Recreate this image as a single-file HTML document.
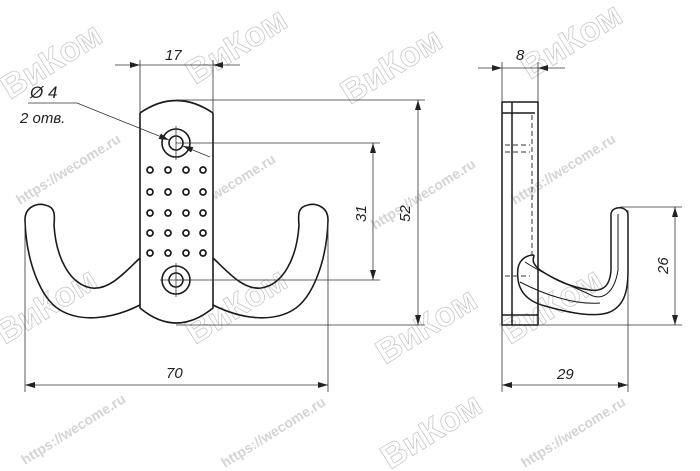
<!DOCTYPE html>
<html><head><meta charset="utf-8"><style>
html,body{margin:0;padding:0;background:#fff;}
svg{display:block;}
text{font-family:"Liberation Sans",sans-serif;font-style:italic;fill:#222;}
.wm{fill:none;stroke:#c8c8c8;stroke-width:0.8;font-family:"Liberation Sans",sans-serif;font-weight:bold;font-style:normal;font-size:34px;}
.wu{fill:#d4d4d4;font-family:"Liberation Sans",sans-serif;font-weight:bold;font-style:normal;font-size:14px;}
</style></head><body>
<svg width="700" height="471" viewBox="0 0 700 471" xmlns="http://www.w3.org/2000/svg">
<defs>
<marker id="a" viewBox="0 0 10 6" refX="10" refY="3" markerWidth="10" markerHeight="6" orient="auto-start-reverse" markerUnits="userSpaceOnUse"><path d="M0,0 L10,3 L0,6 z" fill="#222"/></marker>
</defs>
<g>
<text class="wm" transform="translate(10,100) rotate(-32)">ВиКом</text>
<text class="wm" transform="translate(195,85) rotate(-32)">ВиКом</text>
<text class="wm" transform="translate(350,105) rotate(-32)">ВиКом</text>
<text class="wm" transform="translate(530,80) rotate(-32)">ВиКом</text>
<text class="wm" transform="translate(5,345) rotate(-32)">ВиКом</text>
<text class="wm" transform="translate(195,345) rotate(-32)">ВиКом</text>
<text class="wm" transform="translate(385,365) rotate(-32)">ВиКом</text>
<text class="wm" transform="translate(510,345) rotate(-32)">ВиКом</text>
<text class="wm" transform="translate(390,470) rotate(-32)">ВиКом</text>
<text class="wu" transform="translate(20,205) rotate(-32)">https://wecome.ru</text>
<text class="wu" transform="translate(175,225) rotate(-32)">https://wecome.ru</text>
<text class="wu" transform="translate(375,230) rotate(-32)">https://wecome.ru</text>
<text class="wu" transform="translate(515,205) rotate(-32)">https://wecome.ru</text>
<text class="wu" transform="translate(25,465) rotate(-32)">https://wecome.ru</text>
<text class="wu" transform="translate(225,468) rotate(-32)">https://wecome.ru</text>
<text class="wu" transform="translate(525,468) rotate(-32)">https://wecome.ru</text>
</g>
<g fill="none" stroke="#1a1a1a" stroke-width="1.6" stroke-linejoin="round">
<path d="M140,305 C110,320 80,322 60,310 C40,298 26,260 25,220 C25,206 38,203 45,205 C55,207 55,214 54,225 C56,258 70,285 92,288 C110,290 125,272 140,258"/>
<path d="M213,305 C243,320 273,322 293,310 C313,298 327,260 328,220 C328,206 315,203 308,205 C298,207 298,214 299,225 C297,258 283,285 261,288 C243,290 228,272 213,258"/>
<path d="M140,113 Q176,88 213,113 L213,308 Q176,338 140,308 Z" fill="#fff"/>
<circle cx="176" cy="143" r="14"/><circle cx="176" cy="143" r="7"/>
<circle cx="176" cy="280" r="14"/><circle cx="176" cy="280" r="7"/>
</g>
<g fill="none" stroke="#1a1a1a" stroke-width="1.7">
<circle cx="150" cy="170" r="3"/><circle cx="168" cy="170" r="3"/><circle cx="186" cy="170" r="3"/><circle cx="203" cy="170" r="3"/>
<circle cx="150" cy="192" r="3"/><circle cx="168" cy="192" r="3"/><circle cx="186" cy="192" r="3"/><circle cx="203" cy="192" r="3"/>
<circle cx="150" cy="213" r="3"/><circle cx="168" cy="213" r="3"/><circle cx="186" cy="213" r="3"/><circle cx="203" cy="213" r="3"/>
<circle cx="150" cy="233" r="3"/><circle cx="168" cy="233" r="3"/><circle cx="186" cy="233" r="3"/><circle cx="203" cy="233" r="3"/>
<circle cx="150" cy="253" r="3"/><circle cx="168" cy="253" r="3"/><circle cx="186" cy="253" r="3"/><circle cx="203" cy="253" r="3"/>
</g>
<g stroke="#333" stroke-width="0.8" fill="none">
<line x1="140" y1="60" x2="140" y2="112"/><line x1="213" y1="60" x2="213" y2="112"/>
<line x1="115" y1="65" x2="140" y2="65" marker-end="url(#a)"/><line x1="240" y1="65" x2="213" y2="65" marker-end="url(#a)"/>
<line x1="140" y1="65" x2="213" y2="65"/>
<line x1="176" y1="100" x2="425" y2="100"/><line x1="176" y1="325" x2="425" y2="325"/>
<line x1="418" y1="100" x2="418" y2="325" marker-start="url(#a)" marker-end="url(#a)"/>
<line x1="176" y1="143" x2="380" y2="143"/><line x1="176" y1="280" x2="380" y2="280"/>
<line x1="373" y1="143" x2="373" y2="280" marker-start="url(#a)" marker-end="url(#a)"/>
<line x1="25" y1="222" x2="25" y2="392"/><line x1="328" y1="222" x2="328" y2="392"/>
<line x1="25" y1="385" x2="328" y2="385" marker-start="url(#a)" marker-end="url(#a)"/>
<line x1="176" y1="126" x2="176" y2="160"/><line x1="176" y1="263" x2="176" y2="297"/>
<line x1="160" y1="280" x2="192" y2="280"/>
<line x1="28" y1="103" x2="77" y2="103"/>
<line x1="77" y1="103" x2="169" y2="140" marker-end="url(#a)"/>
<line x1="210" y1="157" x2="183" y2="146" marker-end="url(#a)"/>
<line x1="502" y1="62" x2="502" y2="102"/><line x1="538" y1="62" x2="538" y2="102"/>
<line x1="478" y1="68" x2="502" y2="68" marker-end="url(#a)"/><line x1="565" y1="68" x2="538" y2="68" marker-end="url(#a)"/>
<line x1="502" y1="68" x2="538" y2="68"/>
<line x1="620" y1="207" x2="682" y2="207"/><line x1="538" y1="325" x2="682" y2="325"/>
<line x1="675" y1="207" x2="675" y2="325" marker-start="url(#a)" marker-end="url(#a)"/>
<line x1="502" y1="325" x2="502" y2="392"/><line x1="628" y1="210" x2="628" y2="392"/>
<line x1="502" y1="385" x2="628" y2="385" marker-start="url(#a)" marker-end="url(#a)"/>
</g>
<g fill="none" stroke="#1a1a1a" stroke-width="1.5" stroke-linejoin="round">
<path d="M502,102 L538,102 L538,325 L502,325 Z"/>
<line x1="502" y1="113" x2="535" y2="113"/>
<line x1="512" y1="102" x2="512" y2="325"/>
<line x1="502" y1="315" x2="538" y2="315"/>
<path d="M534,255 C528,255 520,258 518,268 C516,285 522,300 545,306 C570,313 595,318 610,312 C625,305 628,290 628,270 L628,215 C628,206 612,205 611,214 L611,270 C610,285 604,292 590,290 C570,287 555,280 540,270 C530,262 534,258 534,255"/>
<path d="M525,262 C545,275 570,285 593,296 C605,300 615,290 618,270 L618,214" stroke-width="1"/>
<path d="M520,282 C545,295 575,305 600,303" stroke-width="1"/>
</g>
<g stroke="#333" stroke-width="1" fill="none" stroke-dasharray="5,3">
<line x1="532" y1="115" x2="532" y2="255"/>
<line x1="505" y1="145" x2="530" y2="145"/><line x1="505" y1="152" x2="530" y2="152"/>
<line x1="505" y1="276" x2="530" y2="276"/>
</g>
<text x="165" y="60" font-size="15">17</text>
<text x="30" y="98" font-size="17">Ø 4</text>
<text x="20" y="123" font-size="15">2 отв.</text>
<text font-size="15" transform="translate(410,222) rotate(-90)">52</text>
<text font-size="15" transform="translate(366,222) rotate(-90)">31</text>
<text x="166" y="378" font-size="15">70</text>
<text x="516" y="60" font-size="15">8</text>
<text font-size="15" transform="translate(668,274) rotate(-90)">26</text>
<text x="557" y="379" font-size="15">29</text>
</svg>
</body></html>
